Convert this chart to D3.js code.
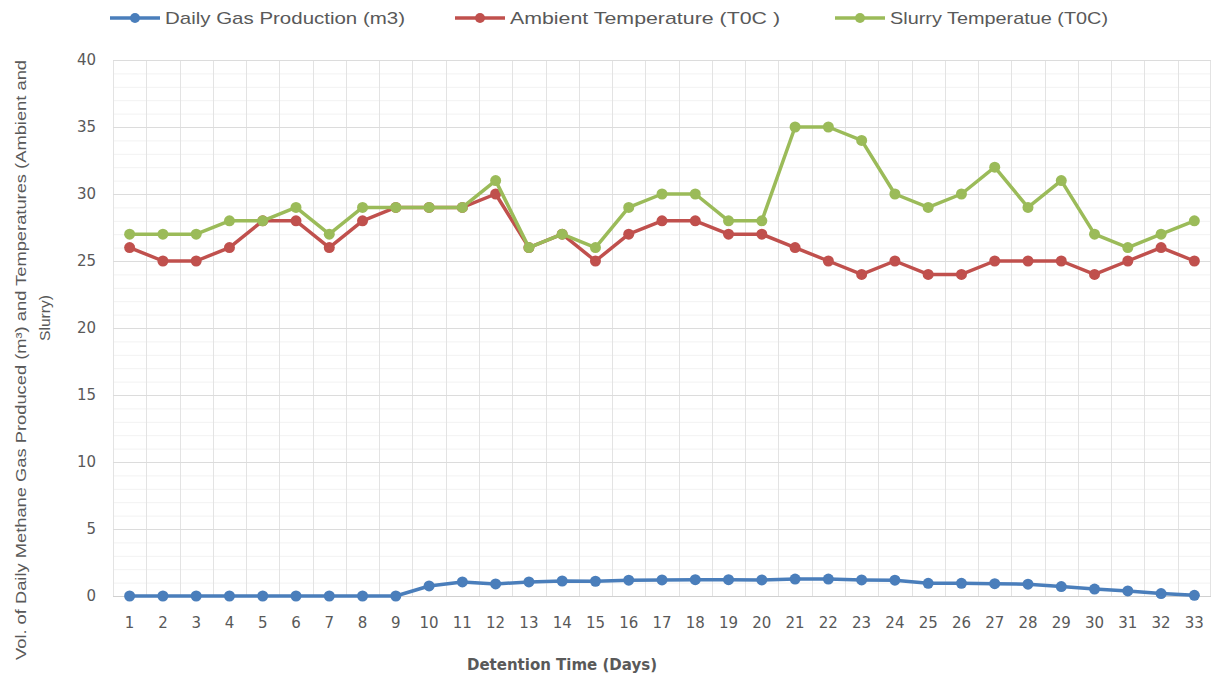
<!DOCTYPE html>
<html>
<head>
<meta charset="utf-8">
<script src="https://cdn.jsdelivr.net/npm/d3@7"></script>
<style>
  body { margin: 0; background: #fff; }
  svg { display: block; }
</style>
</head>
<body>
<svg id="s" width="1214" height="679"></svg>
<script>
// Data
const days = d3.range(1, 34);
const gas = [0, 0, 0, 0, 0, 0, 0, 0, 0, 0.75, 1.05, 0.9, 1.05, 1.12, 1.1, 1.18, 1.2,
  1.22, 1.22, 1.2, 1.26, 1.26, 1.2, 1.18, 0.95, 0.95, 0.92, 0.88, 0.7, 0.52, 0.38, 0.18, 0.05];
const ambient = [26, 25, 25, 26, 28, 28, 26, 28, 29, 29, 29, 30, 26, 27, 25, 27, 28,
  28, 27, 27, 26, 25, 24, 25, 24, 24, 25, 25, 25, 24, 25, 26, 25];
const slurry = [27, 27, 27, 28, 28, 29, 27, 29, 29, 29, 29, 31, 26, 27, 26, 29, 30,
  30, 28, 28, 35, 35, 34, 30, 29, 30, 32, 29, 31, 27, 26, 27, 28];
const yTicks = [0, 5, 10, 15, 20, 25, 30, 35, 40];
const seriesNames = ["Daily Gas Production (m3)", "Ambient Temperature (T0C )", "Slurry Temperatue (T0C)"];
const colors = ["#4a7ebb", "#c0504d", "#9bbb59"];

const svg = d3.select("#s");
const m = { left: 113, right: 1211, top: 60, bottom: 596 };

const x = d3.scaleBand().domain(days).range([m.left, m.right]);
const y = d3.scaleLinear().domain([0, 40]).range([m.bottom, m.top]);
const cx = d => x(d) + x.bandwidth() / 2;

// minor gridlines
svg.append("g").selectAll("line").data(d3.range(1, 40).filter(v => v % 5))
  .join("line")
  .attr("x1", m.left).attr("x2", m.right)
  .attr("y1", d => y(d) + 0.5).attr("y2", d => y(d) + 0.5)
  .attr("stroke", "#f2f2f2");

// vertical gridlines at category edges
svg.append("g").selectAll("line").data(days)
  .join("line")
  .attr("x1", d => Math.round(x(d)) + 0.5).attr("x2", d => Math.round(x(d)) + 0.5)
  .attr("y1", m.top).attr("y2", m.bottom)
  .attr("stroke", "#e3e3e3");
svg.append("line")
  .attr("x1", m.right - 0.5).attr("x2", m.right - 0.5)
  .attr("y1", m.top).attr("y2", m.bottom)
  .attr("stroke", "#e3e3e3");

// major gridlines
svg.append("g").selectAll("line").data(yTicks)
  .join("line")
  .attr("x1", m.left).attr("x2", m.right)
  .attr("y1", d => y(d) + 0.5).attr("y2", d => y(d) + 0.5)
  .attr("stroke", d => d === 0 ? "#d0d0d0" : "#dcdcdc");

// axes labels
const tickFont = "'DejaVu Sans', sans-serif";
svg.append("g").selectAll("text").data(yTicks)
  .join("text")
  .attr("x", 96).attr("y", d => y(d) + 5)
  .attr("text-anchor", "end")
  .attr("font-family", tickFont).attr("font-size", 15)
  .attr("fill", "#595959")
  .text(d => d);

svg.append("g").selectAll("text").data(days)
  .join("text")
  .attr("x", d => cx(d)).attr("y", 628)
  .attr("text-anchor", "middle")
  .attr("font-family", tickFont).attr("font-size", 15)
  .attr("fill", "#595959")
  .text(d => d);

// series
const all = [gas, ambient, slurry];
const line = d3.line().x((v, i) => cx(days[i])).y(v => y(v));
all.forEach((vals, k) => {
  const g = svg.append("g");
  g.append("path").datum(vals)
    .attr("d", line)
    .attr("fill", "none")
    .attr("stroke", colors[k])
    .attr("stroke-width", 3.5)
    .attr("stroke-linejoin", "round");
  g.selectAll("circle").data(vals)
    .join("circle")
    .attr("cx", (v, i) => cx(days[i]))
    .attr("cy", v => y(v))
    .attr("r", 5.5)
    .attr("fill", colors[k]);
});

// legend
const legX = [110, 455, 835];
const legW = [240, 270, 218];
const lg = svg.append("g");
seriesNames.forEach((n, k) => {
  lg.append("line")
    .attr("x1", legX[k]).attr("x2", legX[k] + 50)
    .attr("y1", 18).attr("y2", 18)
    .attr("stroke", colors[k]).attr("stroke-width", 3.5);
  lg.append("circle")
    .attr("cx", legX[k] + 25).attr("cy", 18).attr("r", 5)
    .attr("fill", colors[k]);
  lg.append("text")
    .attr("x", legX[k] + 55).attr("y", 24)
    .attr("font-family", "'Liberation Sans Narrow', 'Liberation Sans', sans-serif")
    .attr("font-size", 17)
    .attr("fill", "#595959")
    .attr("textLength", legW[k])
    .attr("lengthAdjust", "spacingAndGlyphs")
    .text(n);
});

// x title
svg.append("text")
  .attr("x", 562).attr("y", 670)
  .attr("text-anchor", "middle")
  .attr("font-family", "'DejaVu Sans', sans-serif")
  .attr("font-weight", "bold")
  .attr("font-size", 15)
  .attr("fill", "#595959")
  .text("Detention Time (Days)");

// y title
const yt = svg.append("text")
  .attr("transform", "rotate(-90)")
  .attr("font-family", "'Liberation Sans Narrow', 'Liberation Sans', sans-serif")
  .attr("font-size", 15)
  .attr("fill", "#595959")
  .attr("text-anchor", "middle");
yt.append("tspan")
  .attr("x", -360).attr("y", 26)
  .attr("textLength", 600).attr("lengthAdjust", "spacingAndGlyphs")
  .text("Vol. of Daily Methane Gas Produced (m\u00b3) and Temperatures (Ambient and");
yt.append("tspan")
  .attr("x", -318).attr("y", 50)
  .attr("textLength", 46).attr("lengthAdjust", "spacingAndGlyphs")
  .text("Slurry)");
</script>
</body>
</html>
